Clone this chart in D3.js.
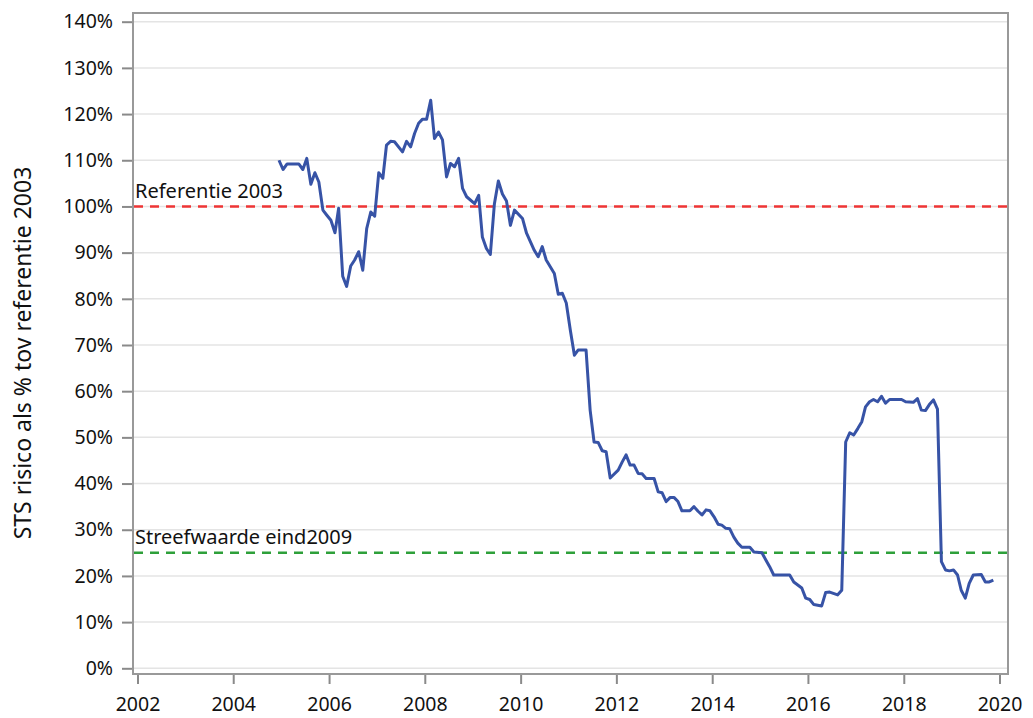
<!DOCTYPE html>
<html>
<head>
<meta charset="utf-8">
<script src="https://cdn.jsdelivr.net/npm/d3@7"></script>
<style>
  body { margin: 0; background: #fff; }
  text { font-family: "Noto Sans", "Open Sans", sans-serif; fill: #111; }
</style>
</head>
<body>
<div id="chart"></div>
<script>
// maanden (meting halverwege de maand) en STS risico in % van referentie 2003
var months = [
  "2004-12","2005-01","2005-02","2005-05","2005-06","2005-07","2005-08","2005-09","2005-10","2005-11","2005-12",
  "2006-01","2006-02","2006-03","2006-04","2006-05","2006-06","2006-07","2006-08","2006-09","2006-10","2006-11","2006-12",
  "2007-01","2007-02","2007-03","2007-04","2007-05","2007-07","2007-08","2007-09","2007-10","2007-11","2007-12",
  "2008-01","2008-02","2008-03","2008-04","2008-05","2008-06","2008-07","2008-08","2008-09","2008-10","2008-11",
  "2009-01","2009-02","2009-03","2009-04","2009-05","2009-06","2009-07","2009-08","2009-09","2009-10","2009-11",
  "2010-01","2010-02","2010-04","2010-05","2010-06","2010-07","2010-09","2010-10","2010-11","2010-12",
  "2011-01","2011-02","2011-03","2011-05","2011-06","2011-07","2011-08","2011-09","2011-10","2011-11",
  "2012-01","2012-02","2012-03","2012-04","2012-05","2012-06","2012-07","2012-08","2012-10","2012-11","2012-12",
  "2013-01","2013-02","2013-03","2013-04","2013-05","2013-07","2013-08","2013-09","2013-10","2013-11","2013-12",
  "2014-01","2014-02","2014-03","2014-04","2014-05","2014-06","2014-07","2014-08","2014-10","2014-11",
  "2015-01","2015-02","2015-03","2015-04","2015-08","2015-09","2015-11","2015-12",
  "2016-01","2016-02","2016-04","2016-05","2016-06","2016-08","2016-09","2016-10","2016-11","2016-12",
  "2017-01","2017-02","2017-03","2017-04","2017-05","2017-06","2017-07","2017-08","2017-09","2017-12",
  "2018-01","2018-03","2018-04","2018-05","2018-06","2018-07","2018-08","2018-09","2018-10","2018-11","2018-12",
  "2019-01","2019-02","2019-03","2019-04","2019-05","2019-06","2019-08","2019-09","2019-10","2019-11"
];
var risk = [
  110.0,108.0,109.2,109.2,108.0,110.4,104.8,107.3,105.3,99.2,98.1,
  97.0,94.3,99.6,84.9,82.7,87.1,88.4,90.2,86.2,95.2,98.8,97.9,
  107.3,106.1,113.3,114.1,114.0,111.8,114.1,112.9,115.8,118.0,118.9,
  118.9,123.0,114.7,116.1,114.4,106.4,109.3,108.6,110.4,103.9,102.1,
  100.6,102.4,93.4,90.9,89.6,100.6,105.5,102.7,101.2,95.9,99.2,
  97.4,94.2,90.5,89.1,91.3,88.4,85.5,81.0,81.2,79.1,
  73.2,67.8,68.9,68.9,55.9,49.0,48.9,47.1,46.9,41.2,
  42.9,44.7,46.2,44.0,44.0,42.2,42.1,41.1,41.1,38.2,38.0,
  36.1,37.0,37.0,36.1,34.1,34.1,35.0,34.0,33.2,34.3,34.1,
  32.8,31.2,31.0,30.3,30.2,28.4,27.1,26.2,26.2,25.2,
  25.0,23.4,22.0,20.2,20.2,18.7,17.4,15.2,
  14.9,13.8,13.5,16.4,16.5,15.9,16.9,49.0,51.0,50.5,
  51.9,53.4,56.6,57.7,58.2,57.7,58.9,57.4,58.2,58.2,
  57.7,57.6,58.4,55.9,55.8,57.1,58.1,56.1,23.1,21.3,21.1,
  21.3,20.2,16.9,15.2,18.4,20.2,20.3,18.7,18.7,19.1
];

var yTicks = [0,10,20,30,40,50,60,70,80,90,100,110,120,130,140];
var xTicks = [2002,2004,2006,2008,2010,2012,2014,2016,2018,2020];
var refLines = [
  {label: "Referentie 2003", value: 100, color: "#ee3535"},
  {label: "Streefwaarde eind2009", value: 25, color: "#2ea03a"}
];

const width = 1033, height = 718;
const frame = {left: 133, right: 1008, top: 13, bottom: 674};

var svg = d3.select("#chart").append("svg")
  .attr("width", width)
  .attr("height", height);

var parseMonth = d3.timeParse("%Y-%m");
var data = months.map((m, i) => ({date: d3.timeDay.offset(parseMonth(m), 14), value: risk[i]}));

var x = d3.scaleTime()
  .domain([new Date(2002, 0, 1), new Date(2020, 0, 1)])
  .range([137.5, 999.5]);
var y = d3.scaleLinear()
  .domain([0, 140])
  .range([668.3, 21.7]);

// gridlines
svg.append("g").selectAll("line")
  .data(yTicks)
  .enter().append("line")
  .attr("x1", frame.left).attr("x2", frame.right)
  .attr("y1", d => y(d)).attr("y2", d => y(d))
  .attr("stroke", "#e4e4e4")
  .attr("stroke-width", 1.5);

// axes
var yAxis = svg.append("g")
  .attr("transform", `translate(${frame.left},0)`)
  .call(d3.axisLeft(y).tickValues(yTicks).tickSize(11).tickPadding(9).tickFormat(d => d + "%"));
var xAxis = svg.append("g")
  .attr("transform", `translate(0,${frame.bottom})`)
  .call(d3.axisBottom(x).tickValues(xTicks.map(t => new Date(t, 0, 1))).tickSize(10).tickPadding(13).tickFormat(d3.timeFormat("%Y")));

[yAxis, xAxis].forEach(a => {
  a.select(".domain").remove();
  a.selectAll(".tick line").attr("stroke", "#8a8a8a").attr("stroke-width", 2);
  a.selectAll(".tick text").attr("font-size", "19.5px").attr("fill", "#111")
    .attr("font-family", '"Noto Sans", sans-serif');
});

// frame
svg.append("rect")
  .attr("x", frame.left).attr("y", frame.top)
  .attr("width", frame.right - frame.left)
  .attr("height", frame.bottom - frame.top)
  .attr("fill", "none")
  .attr("stroke", "#999")
  .attr("stroke-width", 2);

// reference lines
var refs = svg.append("g").selectAll("g")
  .data(refLines)
  .enter().append("g");
refs.append("line")
  .attr("x1", frame.left + 1).attr("x2", frame.right - 1)
  .attr("y1", d => y(d.value)).attr("y2", d => y(d.value))
  .attr("stroke", d => d.color)
  .attr("stroke-width", 2.5)
  .attr("stroke-dasharray", "9,7");
refs.append("text")
  .attr("x", frame.left + 2)
  .attr("y", d => y(d.value) - 8.5)
  .attr("font-size", "20px")
  .text(d => d.label);

// series
var line = d3.line()
  .x(d => x(d.date))
  .y(d => y(d.value));
svg.append("path")
  .datum(data)
  .attr("d", line)
  .attr("fill", "none")
  .attr("stroke", "#3753a6")
  .attr("stroke-width", 3)
  .attr("stroke-linejoin", "round");

// y-axis title
svg.append("text")
  .attr("transform", "translate(31,353) rotate(-90)")
  .attr("text-anchor", "middle")
  .attr("font-size", "23px")
  .text("STS risico als % tov referentie 2003");
</script>
</body>
</html>
